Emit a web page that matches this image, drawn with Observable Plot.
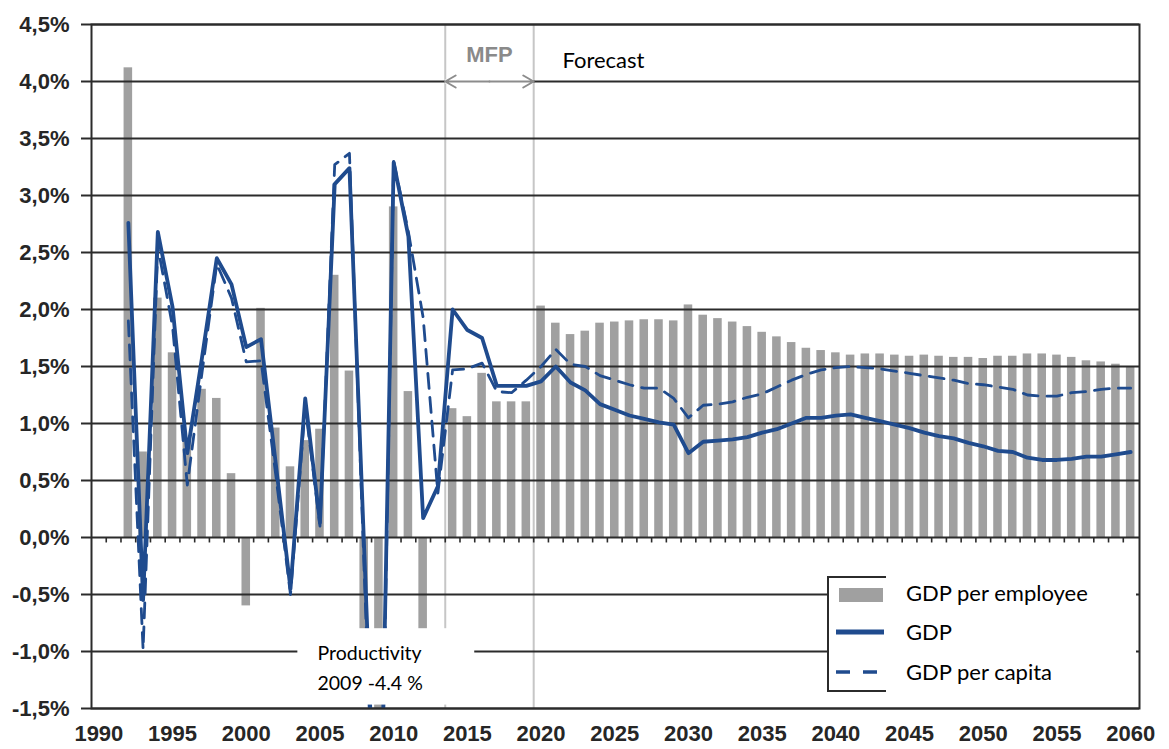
<!DOCTYPE html>
<html><head><meta charset="utf-8">
<script src="https://cdn.jsdelivr.net/npm/d3@7"></script>
<script src="https://cdn.jsdelivr.net/npm/@observablehq/plot@0.6"></script>
<style>
body{margin:0;background:#fff;}
#chart{position:relative;width:1169px;height:749px;}
</style></head><body><div id="chart"></div>
<script>
// ---- data (percent) ----
const years = [1992,1993,1994,1995,1996,1997,1998,1999,2000,2001,2002,2003,2004,2005,2006,2007,2008,2009,2010,2011,2012,2013,2014,2015,2016,2017,2018,2019,2020,2021,2022,2023,2024,2025,2026,2027,2028,2029,2030,2031,2032,2033,2034,2035,2036,2037,2038,2039,2040,2041,2042,2043,2044,2045,2046,2047,2048,2049,2050,2051,2052,2053,2054,2055,2056,2057,2058,2059,2060];
const gdpPerEmployee = [4.12,0.75,2.10,1.62,0.85,1.30,1.22,0.56,-0.60,2.01,0.96,0.62,0.85,0.95,2.30,1.46,-1.30,-4.40,2.90,1.28,-1.20,0.00,1.13,1.06,1.44,1.19,1.19,1.19,2.03,1.88,1.78,1.81,1.88,1.89,1.90,1.91,1.91,1.90,2.04,1.95,1.92,1.89,1.85,1.80,1.76,1.71,1.66,1.64,1.62,1.60,1.61,1.61,1.60,1.59,1.60,1.59,1.58,1.58,1.57,1.59,1.59,1.61,1.61,1.60,1.58,1.55,1.54,1.52,1.50];
const gdp = [2.76,-0.55,2.68,2.02,0.74,1.58,2.45,2.22,1.67,1.74,0.65,-0.45,1.22,0.13,3.10,3.24,-0.10,-3.50,3.29,2.64,0.17,0.45,2.00,1.82,1.75,1.33,1.33,1.33,1.37,1.50,1.36,1.29,1.17,1.12,1.07,1.04,1.01,0.99,0.74,0.84,0.85,0.86,0.88,0.92,0.95,1.00,1.05,1.05,1.07,1.08,1.05,1.02,0.99,0.96,0.92,0.89,0.87,0.83,0.80,0.76,0.75,0.70,0.68,0.68,0.69,0.71,0.71,0.73,0.75];
const gdpPerCapita = [1.90,-0.98,2.55,1.85,0.46,1.45,2.40,2.10,1.54,1.55,0.55,-0.50,1.15,0.10,3.27,3.37,-0.30,-3.80,3.30,2.68,1.93,0.39,1.47,1.48,1.53,1.28,1.27,1.38,1.50,1.65,1.52,1.50,1.42,1.38,1.34,1.31,1.31,1.22,1.05,1.16,1.17,1.19,1.23,1.26,1.32,1.38,1.43,1.47,1.49,1.50,1.49,1.48,1.46,1.44,1.42,1.40,1.38,1.35,1.34,1.32,1.30,1.25,1.24,1.24,1.27,1.28,1.30,1.31,1.31];
const yTicks = [-1.5,-1.0,-0.5,0,0.5,1.0,1.5,2.0,2.5,3.0,3.5,4.0,4.5];
const xTicks = [1990,1995,2000,2005,2010,2015,2020,2025,2030,2035,2040,2045,2050,2055,2060];
const phaseBoundaries = [2013.5, 2019.5];
const seriesNames = ["GDP per employee", "GDP", "GDP per capita"];
const notes = {mfp: "MFP", forecast: "Forecast", prod1: "Productivity", prod2: "2009 -4.4 %"};

const data = years.map((year, i) => ({year, emp: gdpPerEmployee[i], gdp: gdp[i], cap: gdpPerCapita[i]}));
const yearEdges = d3.range(1990.5, 2060.5, 1);
const fmt = d => d.toFixed(1).replace(".", ",") + "%";

const BLUE = "#1f4b8e", GRAY = "#a0a0a0", GRID = "#2b2b2b";

const plot = Plot.plot({
  width: 1169, height: 749,
  marginLeft: 91, marginRight: 30, marginTop: 24, marginBottom: 41,
  x: {type: "linear", domain: [1989.5, 2060.6], axis: null},
  y: {domain: [-1.5, 4.5], axis: null},
  style: {fontFamily: "'Liberation Sans', Arial, sans-serif", background: "#fff", overflow: "visible"},
  marks: [
    Plot.rect(data, {x1: d => d.year - 0.29, x2: d => d.year + 0.29, y1: 0, y2: "emp", fill: GRAY, clip: true}),
    Plot.ruleX(phaseBoundaries, {stroke: "#c6c6c6", strokeWidth: 2}),
    Plot.ruleY(yTicks, {stroke: GRID, strokeWidth: 2}),
    Plot.ruleX(yearEdges, {y1: 0, y2: -0.048, stroke: GRID, strokeWidth: 1.6}),
    // MFP arrow (white under it to hide grid)
    Plot.ruleY([4.0], {x1: phaseBoundaries[0], x2: phaseBoundaries[1], stroke: "white", strokeWidth: 4}),
    Plot.arrow([{a: 2016.5, b: phaseBoundaries[0]}, {a: 2016.5, b: phaseBoundaries[1]}], {x1: "a", x2: "b", y1: 4.0, y2: 4.0, stroke: "#8c8c8c", strokeWidth: 2, headLength: 9}),
    Plot.text([notes.mfp], {x: 2016.5, y: 4.23, fontSize: 22, fontWeight: "bold", fill: "#8a8a8a"}),
    Plot.text([notes.forecast], {x: 2021.45, y: 4.18, textAnchor: "start", fontSize: 22, fill: "#000", fontFamily: "Lato, sans-serif"}),
    Plot.line(data, {x: "year", y: "cap", stroke: BLUE, strokeWidth: 2.8, strokeDasharray: "15,9", clip: true}),
    Plot.line(data, {x: "year", y: "gdp", stroke: BLUE, strokeWidth: 3.8, clip: true}),
    // productivity note box
    Plot.rect([0], {x1: 2003.5, x2: 2015.5, y1: -0.80, y2: -1.47, fill: "white"}),
    Plot.text([notes.prod1], {x: 2004.83, y: -1.02, textAnchor: "start", fontSize: 19.5, fill: "#000", fontFamily: "Lato, sans-serif"}),
    Plot.text([notes.prod2], {x: 2004.83, y: -1.285, textAnchor: "start", fontSize: 19.5, fill: "#000", fontFamily: "Lato, sans-serif"}),
    Plot.frame({stroke: GRID, strokeWidth: 2}),
    Plot.axisY({ticks: yTicks, tickSize: 10, tickPadding: 12, tickFormat: fmt, fontSize: 22, fontWeight: "bold", fill: "#262626", stroke: GRID, strokeWidth: 2, label: null}),
    Plot.axisX({ticks: xTicks, tickSize: 0, tickPadding: 17, tickFormat: d => String(d), fontSize: 22, fontWeight: "bold", fill: "#262626", label: null})
  ]
});
document.getElementById("chart").appendChild(plot);

// ---- legend ----
const svg = d3.select(plot);
const lg = svg.append("g").attr("text-anchor", "start");
lg.append("rect").attr("x", 828).attr("y", 577).attr("width", 307).attr("height", 114)
  .attr("fill", "white").attr("stroke", GRID).attr("stroke-width", 2);
lg.append("rect").attr("x", 886).attr("y", 566).attr("width", 250).attr("height", 134).attr("fill", "white");
lg.append("rect").attr("x", 839).attr("y", 588).attr("width", 44).attr("height", 14).attr("fill", GRAY);
lg.append("line").attr("x1", 836).attr("x2", 884).attr("y1", 632).attr("y2", 632)
  .attr("stroke", BLUE).attr("stroke-width", 5);
lg.append("line").attr("x1", 836).attr("x2", 880).attr("y1", 672).attr("y2", 672)
  .attr("stroke", BLUE).attr("stroke-width", 3.5).attr("stroke-dasharray", "14,13");
[593, 632, 672].forEach((yy, i) => {
  lg.append("text").attr("x", 906).attr("y", yy).attr("dy", "0.35em").attr("text-anchor", "start")
    .attr("font-family", "Lato, sans-serif").attr("font-size", 22).attr("fill", "#000")
    .text(seriesNames[i]);
});
</script></body></html>
